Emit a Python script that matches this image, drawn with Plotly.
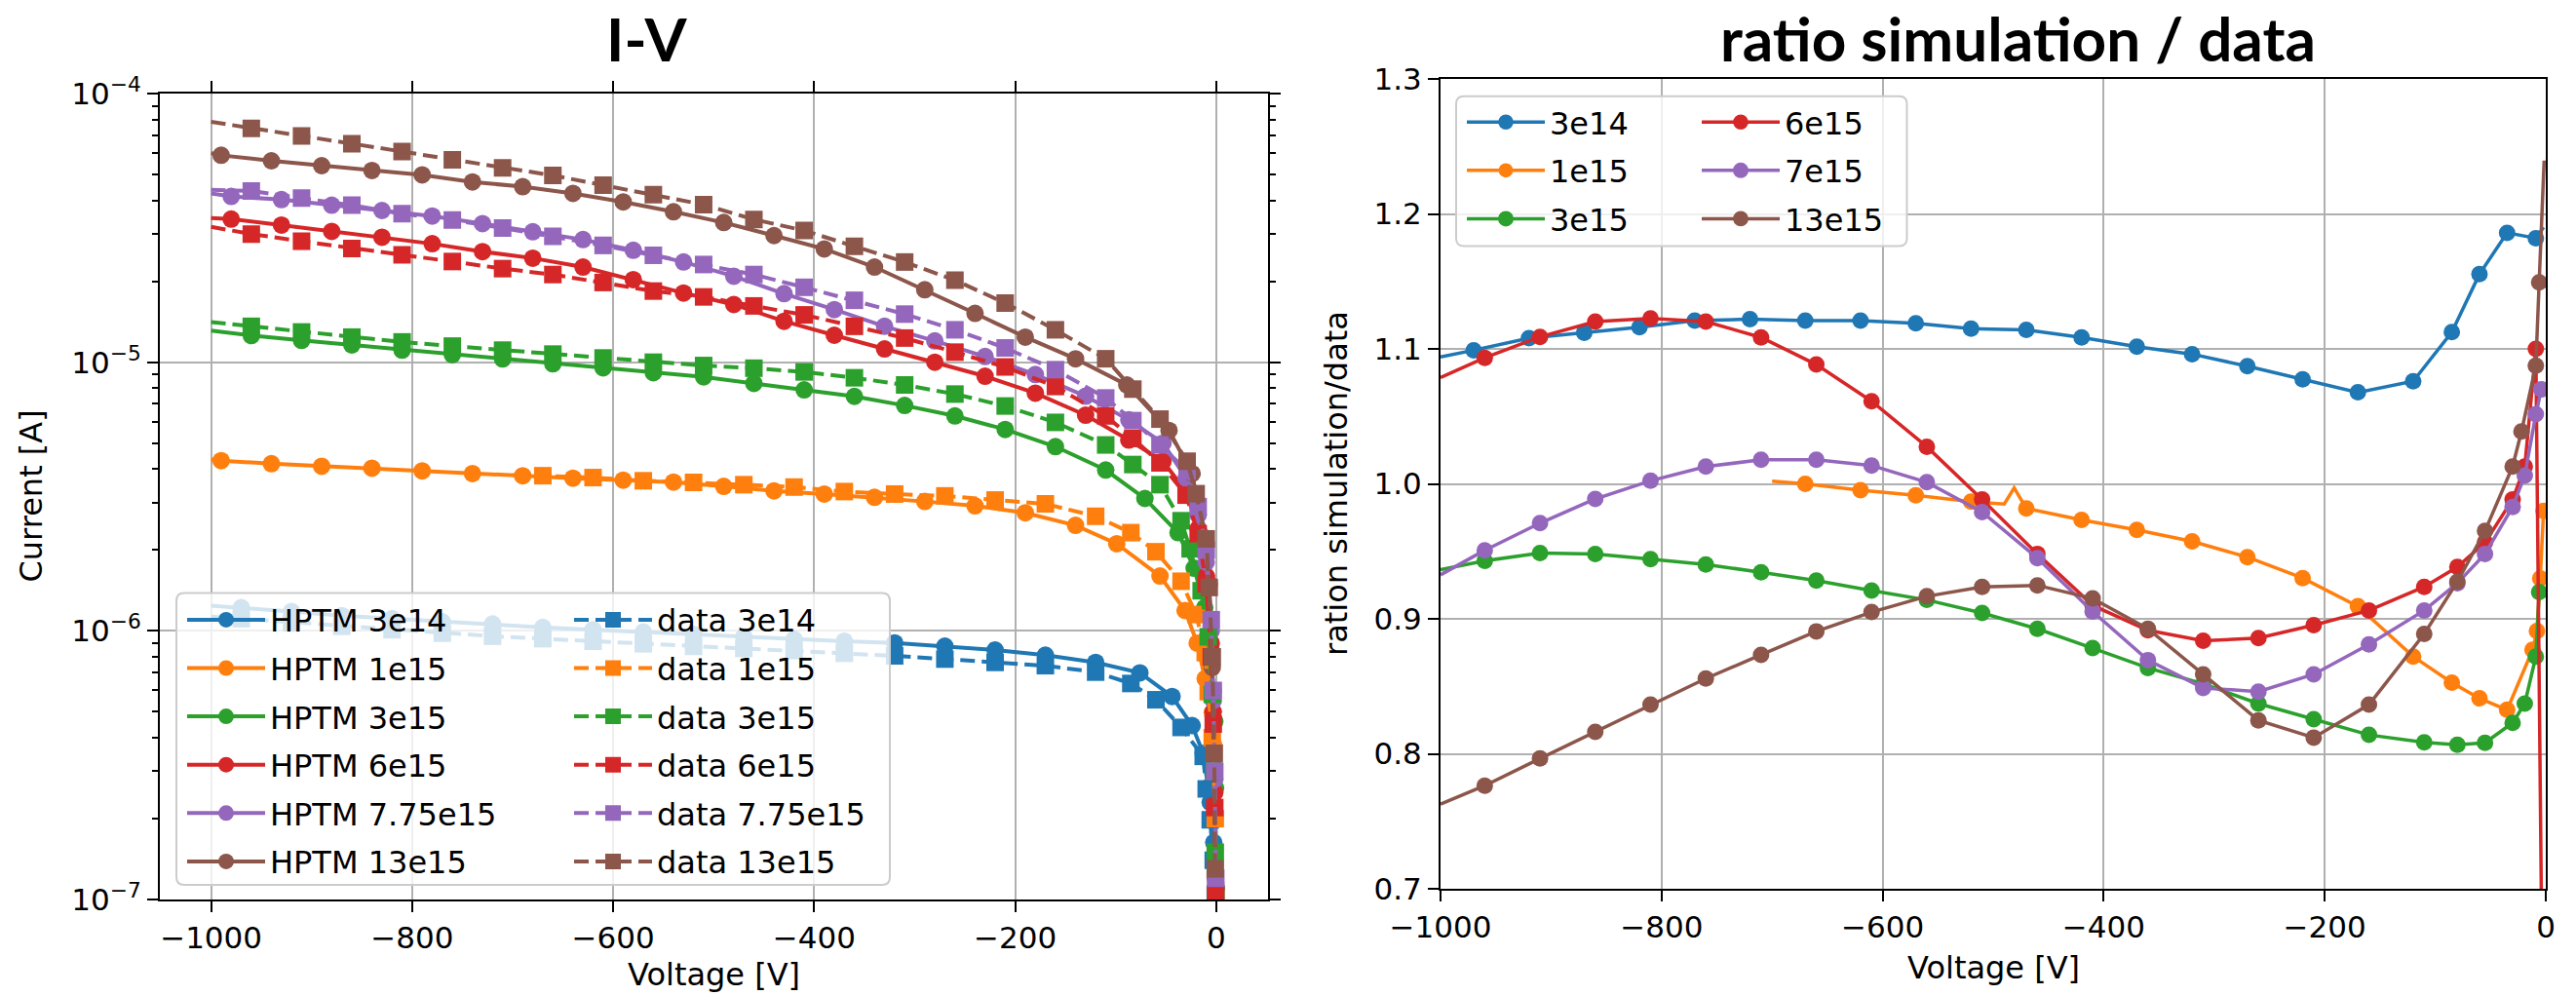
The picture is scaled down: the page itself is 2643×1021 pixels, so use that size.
import plotly.graph_objects as go

W, H = 2643, 1021

BLUE, ORANGE, GREEN, RED, PURPLE, BROWN = "#1f77b4", "#ff7f0e", "#2ca02c", "#d62728", "#9467bd", "#8c564b"

# ---------------- I-V panel: HPTM simulation (solid, circles) ----------------
hptm_3e14_v = [-1000, -970, -920, -870, -820, -770, -720, -670, -620, -570, -520, -470, -420, -370, -320, -270, -220, -170, -120, -76, -44, -24, -13, -6, -2.5, -1.4, -0.5]
hptm_3e14_i = [1.24e-6, 1.22e-6, 1.18e-6, 1.14e-6, 1.11e-6, 1.08e-6, 1.06e-6, 1.03e-6, 1.01e-6, 0.99e-6, 0.97e-6, 0.95e-6, 0.93e-6, 0.915e-6, 0.902e-6, 0.877e-6, 0.848e-6, 0.812e-6, 0.763e-6, 0.698e-6, 0.570e-6, 0.444e-6, 0.350e-6, 0.23e-6, 0.163e-6, 0.134e-6, 0.11e-6]

hptm_1e15_v = [-1000, -990, -940, -890, -840, -790, -740, -690, -640, -590, -540, -490, -440, -390, -340, -290, -240, -190, -140, -99, -56, -31, -19, -11, -4, -2.5, -1]
hptm_1e15_i = [4.34e-6, 4.30e-6, 4.19e-6, 4.10e-6, 4.03e-6, 3.94e-6, 3.85e-6, 3.78e-6, 3.70e-6, 3.64e-6, 3.58e-6, 3.45e-6, 3.32e-6, 3.23e-6, 3.14e-6, 3.03e-6, 2.92e-6, 2.75e-6, 2.47e-6, 2.11e-6, 1.60e-6, 1.19e-6, 0.90e-6, 0.664e-6, 0.496e-6, 0.375e-6, 0.203e-6]

hptm_3e15_v = [-1000, -960, -910, -860, -810, -760, -710, -660, -610, -560, -510, -460, -410, -360, -310, -260, -210, -160, -110, -71, -38, -22, -11.5, -5, -3, -1.5, -0.7, -0.2]
hptm_3e15_i = [1.31e-5, 1.257e-5, 1.205e-5, 1.159e-5, 1.109e-5, 1.067e-5, 1.028e-5, 9.86e-6, 9.53e-6, 9.14e-6, 8.82e-6, 8.34e-6, 7.89e-6, 7.46e-6, 6.90e-6, 6.31e-6, 5.62e-6, 4.85e-6, 3.97e-6, 3.11e-6, 2.32e-6, 1.71e-6, 1.22e-6, 8.5e-7, 6.0e-7, 4.6e-7, 2.6e-7, 1.1e-7]

hptm_6e15_v = [-1000, -980, -930, -880, -830, -780, -730, -680, -630, -580, -530, -480, -430, -380, -330, -280, -230, -180, -130, -87, -53, -30, -18, -10, -5, -3, -1.5, -0.5]
hptm_6e15_i = [3.44e-5, 3.41e-5, 3.24e-5, 3.07e-5, 2.92e-5, 2.76e-5, 2.58e-5, 2.44e-5, 2.26e-5, 2.03e-5, 1.81e-5, 1.64e-5, 1.42e-5, 1.26e-5, 1.12e-5, 1.0e-5, 8.87e-6, 7.67e-6, 6.35e-6, 5.13e-6, 4.28e-6, 3.3e-6, 2.4e-6, 1.6e-6, 9.0e-7, 5.0e-7, 2.5e-7, 1.1e-7]

hptm_775e15_v = [-1000, -980, -930, -880, -830, -780, -730, -680, -630, -580, -530, -480, -430, -380, -330, -280, -230, -180, -130, -87, -53, -30, -18, -10, -5, -3, -1.5, -0.5]
hptm_775e15_i = [4.25e-5, 4.14e-5, 4.03e-5, 3.84e-5, 3.67e-5, 3.50e-5, 3.28e-5, 3.06e-5, 2.86e-5, 2.61e-5, 2.36e-5, 2.09e-5, 1.80e-5, 1.57e-5, 1.36e-5, 1.20e-5, 1.05e-5, 9.0e-6, 7.47e-6, 6.1e-6, 5.0e-6, 3.7e-6, 2.7e-6, 1.8e-6, 1.0e-6, 5.5e-7, 2.8e-7, 1.15e-7]

hptm_13e15_v = [-1000, -990, -940, -890, -840, -790, -740, -690, -640, -590, -540, -490, -440, -390, -340, -290, -240, -190, -140, -89, -47, -24, -12, -7, -4, -2, -1]
hptm_13e15_i = [6.0e-5, 5.89e-5, 5.62e-5, 5.39e-5, 5.17e-5, 4.98e-5, 4.69e-5, 4.50e-5, 4.25e-5, 3.95e-5, 3.63e-5, 3.31e-5, 2.96e-5, 2.64e-5, 2.26e-5, 1.86e-5, 1.52e-5, 1.24e-5, 1.03e-5, 8.23e-6, 5.57e-6, 3.85e-6, 2.22e-6, 1.49e-6, 7.3e-7, 3.1e-7, 1.2e-7]

# ---------------- I-V panel: measured data (dashed, squares) ----------------
data_3e14_v = [-1000, -970, -920, -870, -820, -770, -720, -670, -620, -570, -520, -470, -420, -370, -320, -270, -220, -170, -120, -85, -60, -35, -13, -10, -6, -3, -1]
data_3e14_i = [1.13e-6, 1.11e-6, 1.07e-6, 1.04e-6, 1.01e-6, 0.98e-6, 0.955e-6, 0.935e-6, 0.915e-6, 0.895e-6, 0.875e-6, 0.86e-6, 0.845e-6, 0.825e-6, 0.807e-6, 0.785e-6, 0.763e-6, 0.742e-6, 0.702e-6, 0.637e-6, 0.554e-6, 0.437e-6, 0.341e-6, 0.258e-6, 0.198e-6, 0.14e-6, 0.105e-6]

data_1e15_v = [-700, -670, -620, -570, -520, -470, -420, -370, -320, -270, -220, -170, -120, -85, -60, -35, -20, -11, -8, -4, -1]
data_1e15_i = [3.80e-6, 3.78e-6, 3.72e-6, 3.62e-6, 3.57e-6, 3.50e-6, 3.43e-6, 3.30e-6, 3.23e-6, 3.18e-6, 3.07e-6, 2.97e-6, 2.67e-6, 2.32e-6, 1.97e-6, 1.53e-6, 1.15e-6, 0.83e-6, 0.594e-6, 0.40e-6, 0.20e-6]

data_3e15_v = [-1000, -960, -910, -860, -810, -760, -710, -660, -610, -560, -510, -460, -410, -360, -310, -260, -210, -160, -110, -83, -56, -35, -26, -15, -8, -4, -2, -1, -0.3]
data_3e15_i = [1.41e-5, 1.36e-5, 1.296e-5, 1.24e-5, 1.19e-5, 1.148e-5, 1.109e-5, 1.072e-5, 1.037e-5, 1.0e-5, 9.72e-6, 9.50e-6, 9.2e-6, 8.75e-6, 8.23e-6, 7.61e-6, 6.87e-6, 5.97e-6, 4.92e-6, 4.16e-6, 3.5e-6, 2.57e-6, 2.02e-6, 1.41e-6, 9.5e-7, 5.8e-7, 3.0e-7, 1.5e-7, 1.05e-7]

data_6e15_v = [-1000, -960, -910, -860, -810, -760, -710, -660, -610, -560, -510, -460, -410, -360, -310, -260, -210, -160, -110, -83, -56, -30, -18, -10, -5, -3, -1.5, -0.5]
data_6e15_i = [3.19e-5, 3.00e-5, 2.82e-5, 2.65e-5, 2.51e-5, 2.37e-5, 2.23e-5, 2.12e-5, 1.98e-5, 1.84e-5, 1.75e-5, 1.62e-5, 1.50e-5, 1.36e-5, 1.23e-5, 1.09e-5, 9.6e-6, 8.12e-6, 6.31e-6, 5.2e-6, 4.22e-6, 3.2e-6, 2.3e-6, 1.5e-6, 8.0e-7, 4.5e-7, 2.2e-7, 1.05e-7]

data_775e15_v = [-1000, -960, -910, -860, -810, -760, -710, -660, -610, -560, -510, -460, -410, -360, -310, -260, -210, -160, -110, -83, -56, -29, -18, -10, -5, -3, -1.5, -0.5]
data_775e15_i = [4.38e-5, 4.34e-5, 4.08e-5, 3.84e-5, 3.57e-5, 3.38e-5, 3.16e-5, 2.94e-5, 2.72e-5, 2.50e-5, 2.31e-5, 2.12e-5, 1.90e-5, 1.70e-5, 1.51e-5, 1.32e-5, 1.13e-5, 9.38e-6, 7.36e-6, 6.06e-6, 4.92e-6, 3.94e-6, 2.9e-6, 2.0e-6, 1.1e-6, 6.0e-7, 3.0e-7, 1.2e-7]

data_13e15_v = [-1000, -960, -910, -860, -810, -760, -710, -660, -610, -560, -510, -460, -410, -360, -310, -260, -210, -160, -110, -83, -56, -29, -20, -10, -7, -4, -2, -1]
data_13e15_i = [7.85e-5, 7.42e-5, 6.96e-5, 6.51e-5, 6.08e-5, 5.67e-5, 5.29e-5, 4.96e-5, 4.56e-5, 4.20e-5, 3.86e-5, 3.40e-5, 3.09e-5, 2.70e-5, 2.36e-5, 2.02e-5, 1.66e-5, 1.32e-5, 1.03e-5, 7.94e-6, 6.14e-6, 4.28e-6, 3.24e-6, 2.2e-6, 1.45e-6, 8.0e-7, 3.5e-7, 1.3e-7]

# ---------------- ratio panel ----------------
ratio_3e14_v = [-1000, -970, -920, -870, -820, -770, -720, -670, -620, -570, -520, -470, -420, -370, -320, -270, -220, -170, -120, -85, -60, -35, -9, -2]
ratio_3e14 = [1.094, 1.099, 1.108, 1.112, 1.116, 1.121, 1.122, 1.121, 1.121, 1.119, 1.115, 1.114, 1.1085, 1.1016, 1.0961, 1.0872, 1.0775, 1.0678, 1.076, 1.1124, 1.1554, 1.186, 1.182, 1.19]

ratio_1e15_v = [-700, -670, -620, -570, -520, -490, -481, -470, -420, -370, -320, -270, -220, -170, -120, -85, -60, -35, -12, -8, -5, -2]
ratio_1e15 = [1.002, 1.0, 0.9953, 0.9915, 0.9868, 0.985, 0.997, 0.9818, 0.9733, 0.9659, 0.9574, 0.9457, 0.9302, 0.9093, 0.8721, 0.8527, 0.8411, 0.8326, 0.877, 0.891, 0.93, 0.98]

ratio_3e15_v = [-1000, -960, -910, -860, -810, -760, -710, -660, -610, -560, -510, -460, -410, -360, -310, -260, -210, -160, -110, -80, -55, -30, -19, -9, -6]
ratio_3e15 = [0.9364, 0.943, 0.9488, 0.948, 0.9442, 0.9403, 0.9345, 0.9283, 0.921, 0.914, 0.9043, 0.8926, 0.8783, 0.8636, 0.8519, 0.8372, 0.8256, 0.814, 0.8085, 0.8066, 0.8081, 0.8229, 0.8372, 0.8721, 0.9198]

ratio_6e15_v = [-1000, -960, -910, -860, -810, -760, -710, -660, -610, -560, -510, -460, -410, -360, -310, -260, -210, -160, -110, -80, -55, -30, -19, -9, -0.4]
ratio_6e15 = [1.0787, 1.0934, 1.1089, 1.1202, 1.1225, 1.1202, 1.1085, 1.0884, 1.0612, 1.0275, 0.9884, 0.9481, 0.91, 0.8915, 0.8837, 0.8857, 0.8953, 0.9062, 0.9237, 0.9384, 0.9566, 0.9884, 1.0128, 1.10, 0.40]

ratio_7e15_v = [-1000, -960, -910, -860, -810, -760, -710, -660, -610, -560, -510, -460, -410, -360, -310, -260, -210, -160, -110, -80, -55, -30, -19, -9, -4]
ratio_7e15 = [0.9326, 0.9508, 0.9709, 0.9888, 1.0023, 1.0128, 1.0178, 1.0178, 1.0136, 1.0012, 0.9791, 0.945, 0.9054, 0.8694, 0.8488, 0.8461, 0.8589, 0.881, 0.9062, 0.9264, 0.9481, 0.9829, 1.0062, 1.0516, 1.07]

ratio_13e15_v = [-1000, -960, -910, -860, -810, -760, -710, -660, -610, -560, -510, -460, -410, -360, -310, -260, -210, -160, -110, -80, -55, -30, -22, -9, -6, -1.5]
ratio_13e15 = [0.7628, 0.7764, 0.7965, 0.8163, 0.8364, 0.8558, 0.8733, 0.8907, 0.905, 0.9167, 0.9236, 0.9248, 0.9151, 0.8926, 0.8589, 0.8248, 0.812, 0.8364, 0.8888, 0.9275, 0.9651, 1.0128, 1.0388, 1.0876, 1.1492, 1.2395]

# tick labels
volt_ticks = [-1000, -800, -600, -400, -200, 0]
cur_ticks = [1e-7, 1e-6, 1e-5, 1e-4]
cur_ticktext = ["10<sup>\u22127</sup>", "10<sup>\u22126</sup>", "10<sup>\u22125</sup>", "10<sup>\u22124</sup>"]
ratio_ticks = [0.7, 0.8, 0.9, 1.0, 1.1, 1.2, 1.3]

# ---------------- figure ----------------
def px_x(p):
    return p / W


def px_y(p):
    return 1 - p / H


FONT = "DejaVu Sans"
MS_L = 18
MS_R = 17


def sizes(v, nomark, ms):
    return [0 if x in nomark else ms for x in v]


fig = go.Figure()

left_sim = [
    ("HPTM 3e14", hptm_3e14_v, hptm_3e14_i, BLUE),
    ("HPTM 1e15", hptm_1e15_v, hptm_1e15_i, ORANGE),
    ("HPTM 3e15", hptm_3e15_v, hptm_3e15_i, GREEN),
    ("HPTM 6e15", hptm_6e15_v, hptm_6e15_i, RED),
    ("HPTM 7.75e15", hptm_775e15_v, hptm_775e15_i, PURPLE),
    ("HPTM 13e15", hptm_13e15_v, hptm_13e15_i, BROWN),
]
left_data = [
    ("data 3e14", data_3e14_v, data_3e14_i, BLUE),
    ("data 1e15", data_1e15_v, data_1e15_i, ORANGE),
    ("data 3e15", data_3e15_v, data_3e15_i, GREEN),
    ("data 6e15", data_6e15_v, data_6e15_i, RED),
    ("data 7.75e15", data_775e15_v, data_775e15_i, PURPLE),
    ("data 13e15", data_13e15_v, data_13e15_i, BROWN),
]

for k, (name, v, i, c) in enumerate(left_sim):
    fig.add_trace(go.Scatter(
        x=v, y=i, mode="lines+markers", name=name,
        line=dict(color=c, width=4),
        marker=dict(symbol="circle", color=c, size=sizes(v, [v[0]], MS_L), opacity=1,
                    line=dict(width=0)),
        xaxis="x", yaxis="y", legend="legend", legendgroup="s%d" % k,
    ))
for k, (name, v, i, c) in enumerate(left_data):
    fig.add_trace(go.Scatter(
        x=v, y=i, mode="lines+markers", name=name,
        line=dict(color=c, width=4, dash="15px,7px"),
        marker=dict(symbol="square", color=c, size=sizes(v, [v[0]], MS_L), opacity=1,
                    line=dict(width=0)),
        xaxis="x", yaxis="y", legend="legend2", legendgroup="d%d" % k,
    ))

right_series = [
    ("3e14", ratio_3e14_v, ratio_3e14, BLUE, [-1000, -2], "legend3"),
    ("1e15", ratio_1e15_v, ratio_1e15, ORANGE, [-700, -490, -481], "legend3"),
    ("3e15", ratio_3e15_v, ratio_3e15, GREEN, [-1000], "legend3"),
    ("6e15", ratio_6e15_v, ratio_6e15, RED, [-1000, -0.4], "legend4"),
    ("7e15", ratio_7e15_v, ratio_7e15, PURPLE, [-1000], "legend4"),
    ("13e15", ratio_13e15_v, ratio_13e15, BROWN, [-1000, -1.5], "legend4"),
]
for k, (name, v, r, c, nm, lg) in enumerate(right_series):
    fig.add_trace(go.Scatter(
        x=v, y=r, mode="lines+markers", name=name,
        line=dict(color=c, width=3.5),
        marker=dict(symbol="circle", color=c, size=sizes(v, nm, MS_R), opacity=1,
                    line=dict(width=0)),
        xaxis="x2", yaxis="y2", legend=lg, legendgroup="r%d" % k,
    ))

axis_common = dict(
    showline=True, linecolor="black", linewidth=2,
    ticks="outside", tickcolor="black", tickwidth=2, ticklen=11,
    showgrid=True, gridcolor="#b0b0b0", gridwidth=2, zeroline=False,
    automargin=False,
    tickfont=dict(family=FONT, size=31, color="black"),
)

minor_vals = [m * 10 ** e for e in (-7, -6, -5) for m in range(2, 10)]

fig.update_layout(
    width=W, height=H, autosize=False,
    margin=dict(l=0, r=0, t=0, b=0, autoexpand=False),
    paper_bgcolor="white", plot_bgcolor="white",
    showlegend=True,
    xaxis=dict(domain=[px_x(164), px_x(1300.5)], range=[-1051, 51], tickvals=volt_ticks,
               mirror="ticks", anchor="y", **axis_common),
    yaxis=dict(domain=[px_y(923), px_y(96)], type="log", range=[-7, -4],
               tickvals=cur_ticks, ticktext=cur_ticktext, mirror="ticks", anchor="x",
               minor=dict(tickvals=minor_vals, ticks="outside", ticklen=6, tickwidth=1.5,
                          tickcolor="black", showgrid=False),
               **axis_common),
    xaxis2=dict(domain=[px_x(1478), px_x(2612)], range=[-1000, 0], tickvals=volt_ticks,
                mirror=True, anchor="y2", **axis_common),
    yaxis2=dict(domain=[px_y(912), px_y(81)], range=[0.7, 1.3], tickvals=ratio_ticks,
                tickformat=".1f", mirror=True, anchor="x2", **axis_common),
)

leg_common = dict(bgcolor="rgba(0,0,0,0)", borderwidth=0,
                  font=dict(family=FONT, size=32, color="black"),
                  itemwidth=80, tracegroupgap=5, xanchor="left", yanchor="top",
                  orientation="v")
fig.update_layout(
    legend=dict(x=px_x(187), y=px_y(608.6), **leg_common),
    legend2=dict(x=px_x(584), y=px_y(608.6), **leg_common),
    legend3=dict(x=px_x(1500), y=px_y(97.9), **leg_common),
    legend4=dict(x=px_x(1741), y=px_y(97.9), **leg_common),
)


def rounded_box(x0, y0, x1, y1, r):
    X = px_x
    Y = px_y
    return (f"M {X(x0 + r)},{Y(y0)} L {X(x1 - r)},{Y(y0)} Q {X(x1)},{Y(y0)} {X(x1)},{Y(y0 + r)} "
            f"L {X(x1)},{Y(y1 - r)} Q {X(x1)},{Y(y1)} {X(x1 - r)},{Y(y1)} "
            f"L {X(x0 + r)},{Y(y1)} Q {X(x0)},{Y(y1)} {X(x0)},{Y(y1 - r)} "
            f"L {X(x0)},{Y(y0 + r)} Q {X(x0)},{Y(y0)} {X(x0 + r)},{Y(y0)} Z")


for box in [(181, 608.5, 913, 908), (1494, 98.7, 1956.5, 252.5)]:
    fig.add_shape(type="path", xref="paper", yref="paper", path=rounded_box(*box, 8),
                  fillcolor="rgba(255,255,255,0.8)", line=dict(color="#cccccc", width=2),
                  layer="above")

title_font = dict(family="Lato", size=62, color="black", weight=700)
ann = [
    dict(text="I-V", x=px_x(664), y=1, yanchor="top", font=title_font),
    dict(text="ratio simulation / data", x=px_x(2070), y=1, yanchor="top", font=title_font),
    dict(text="Current [A]", x=px_x(31), y=px_y(509.5), yanchor="middle", textangle=-90,
         font=dict(family=FONT, size=32, color="black")),
    dict(text="ration simulation/data", x=px_x(1370.5), y=px_y(496.5), yanchor="middle", textangle=-90,
         font=dict(family=FONT, size=32, color="black")),
    dict(text="Voltage [V]", x=px_x(732), y=0, yanchor="bottom",
         font=dict(family=FONT, size=32, color="black")),
    dict(text="Voltage [V]", x=px_x(2045), y=px_y(993), yanchor="middle",
         font=dict(family=FONT, size=32, color="black")),
]
for a in ann:
    fig.add_annotation(xref="paper", yref="paper", showarrow=False, xanchor="center", **a)

fig.write_html("out.html")
